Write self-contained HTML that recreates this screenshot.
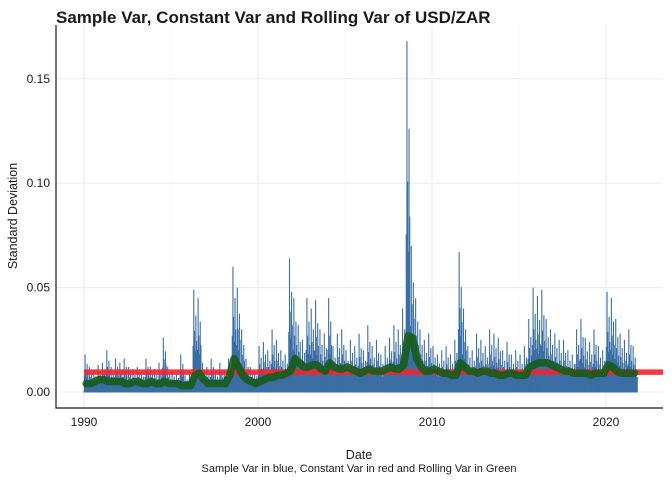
<!DOCTYPE html>
<html><head><meta charset="utf-8"><style>
body{margin:0;background:#fff;font-family:"Liberation Sans",sans-serif}
</style></head><body>
<svg id="c" width="672" height="480" xmlns="http://www.w3.org/2000/svg">
<text x="56" y="23" font-size="17" font-weight="bold" fill="#1a1a1a">Sample Var, Constant Var and Rolling Var of USD/ZAR</text>
<g id="grid"></g><g id="marks"></g><g id="axes"></g>
<text x="359" y="459" font-size="12.5" text-anchor="middle" fill="#1a1a1a">Date</text>
<text x="359" y="472" font-size="11" text-anchor="middle" fill="#1a1a1a">Sample Var in blue, Constant Var in red and Rolling Var in Green</text>
<text transform="translate(17,216) rotate(-90)" font-size="12.5" text-anchor="middle" fill="#1a1a1a">Standard Deviation</text>
</svg>
<script>
const yTicks=[0,0.05,0.10,0.15];
const yTickLabels=["0.00","0.05","0.10","0.15"];
const xTicks=[1990,2000,2010,2020];
const startYear=1990;
const peaks=[.018,.012,.010,.013,.014,.020,.012,.016,.014,.016,.012,.011,.012,.010,.016,.012,.011,.014,.026,.012,.010,.009,.018,.008,.010,.049,.045,.014,.012,.016,.010,.014,.010,.016,.060,.050,.030,.016,.012,.010,.022,.024,.020,.030,.025,.020,.018,.064,.045,.032,.025,.045,.040,.044,.030,.028,.045,.022,.028,.030,.020,.025,.022,.028,.020,.032,.022,.025,.018,.022,.026,.032,.030,.040,.168,.070,.045,.030,.025,.028,.022,.018,.020,.022,.018,.025,.067,.040,.022,.020,.028,.025,.022,.030,.028,.026,.020,.024,.018,.020,.018,.022,.035,.050,.046,.049,.035,.030,.028,.025,.025,.020,.018,.030,.035,.026,.024,.030,.022,.020,.048,.045,.035,.028,.025,.030,.022];
const baseLevel=[.005,.005,.005,.005,.005,.005,.006,.005,.007,.006,.007,.008,.008,.008,.008,.007,.007,.007,.008,.009,.007,.007,.007,.007,.007,.007,.008,.008,.007,.007,.008,.007];
const rolling=[.004,.004,.005,.006, .006,.005,.005,.005, .005,.004,.004,.005, .005,.004,.004,.005, .004,.004,.005,.004, .004,.004,.003,.003, .003,.008,.009,.006, .004,.004,.004,.004, .004,.008,.016,.012, .008,.006,.005,.004, .005,.006,.007,.007, .008,.008,.009,.010, .016,.014,.012,.012, .013,.013,.011,.010, .014,.012,.011,.011, .012,.011,.010,.009, .010,.011,.010,.010, .010,.011,.012,.011, .011,.013,.027,.026, .016,.012,.010,.010, .011,.010,.009,.009, .008,.008,.014,.012, .010,.010,.009,.010, .010,.009,.009,.008, .008,.009,.009,.008, .008,.008,.012,.013, .014,.014,.014,.013, .012,.011,.010,.010, .009,.009,.009,.009, .008,.009,.009,.009, .013,.012,.010,.009, .009,.009,.009];
const constVar=0.0095;
const NS="http://www.w3.org/2000/svg";
const X=y=>84+(y-1990)*17.4, Y=v=>392-v*2088;
function mk(p,t,a){const e=document.createElementNS(NS,t);for(const k in a)e.setAttribute(k,a[k]);document.getElementById(p).appendChild(e);return e;}
[1995,2005,2015].forEach(v=>{const e=mk('grid','line',{x1:X(v),x2:X(v),y1:25,y2:408,stroke:'#f3f3f3','stroke-width':0.6});});
xTicks.forEach(v=>{const e=mk('grid','line',{x1:X(v),x2:X(v),y1:25,y2:408,stroke:'#ebebeb','stroke-width':1.1});});
yTicks.forEach(v=>{const e=mk('grid','line',{x1:56,x2:663,y1:Y(v),y2:Y(v),stroke:'#ebebeb','stroke-width':1.1});});
let d='M'+X(startYear)+','+Y(0);
baseLevel.forEach((v,i)=>{d+=' L'+X(startYear+i+0.1)+','+Y(v)+' L'+X(Math.min(startYear+i+1,2021.8))+','+Y(v);});
d+=' L'+X(2021.8)+','+Y(0)+'Z';
const band=mk('marks','path',{d:d,fill:'#3a6ea5','stroke':'#3a6ea5','stroke-width':1,'stroke-linejoin':'round'});


const fr=[[0.02,0.45],[0.06,1],[0.10,0.6],[0.14,0.4],[0.18,0.75],[0.22,0.5]];
peaks.forEach((v,i)=>{
  const t=startYear+i*0.25;
  fr.forEach(([o,f])=>{
    const e=mk('marks','line',{x1:X(t+o),x2:X(t+o),y1:Y(0),y2:Y(v*f),stroke:'#3a6ea5','stroke-width':1.1});
    
    
  });
});
const cl=mk('marks','line',{x1:X(1990),x2:663,y1:Y(constVar),y2:Y(constVar),stroke:'#f5222d','stroke-width':5.5,'stroke-opacity':0.9});


let p='';rolling.forEach((v,i)=>{p+=(i?' L':'M')+X(startYear+0.125+i*0.25)+','+Y(v);});
const rl=mk('marks','path',{d:p,fill:'none',stroke:'#145c14','stroke-width':7.5,'stroke-linejoin':'round','stroke-linecap':'round','stroke-opacity':0.88});


const ax=mk('axes','path',{d:'M56,25 L56,408 L663,408',fill:'none',stroke:'#1a1a1a','stroke-width':1.2});


yTicks.forEach((v,i)=>{
  const t=mk('axes','text',{x:50,y:Y(v)+4,'font-size':12,'text-anchor':'end',fill:'#1a1a1a'});t.textContent=yTickLabels[i];
  
  
});
xTicks.forEach(v=>{
  const t=mk('axes','text',{x:X(v),y:426,'font-size':12,'text-anchor':'middle',fill:'#1a1a1a'});t.textContent=v;
  
  
});
</script>
</body></html>
